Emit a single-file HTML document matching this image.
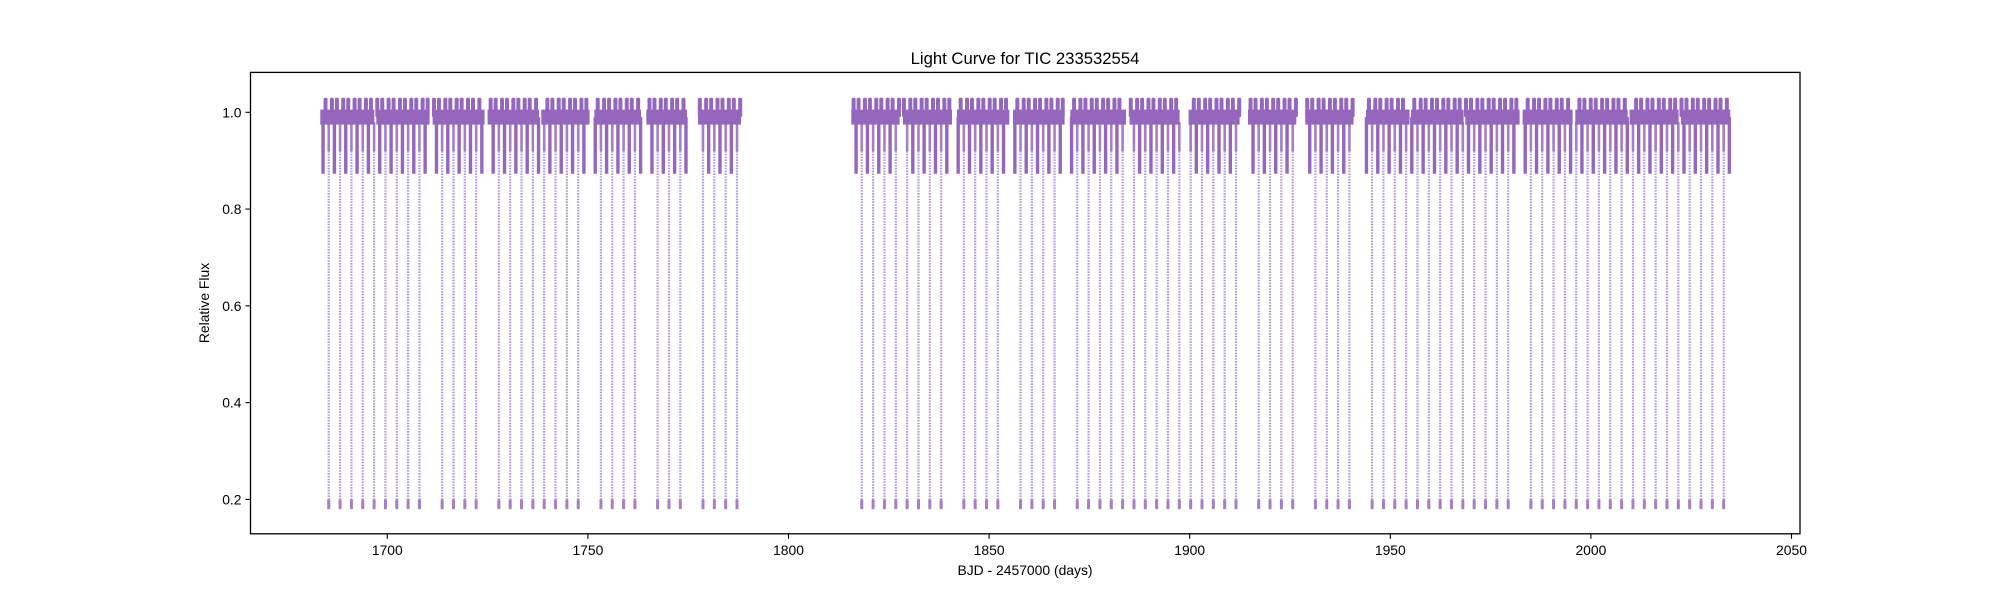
<!DOCTYPE html>
<html><head><meta charset="utf-8">
<style>
html,body{margin:0;padding:0;background:#fff;}
svg{display:block;font-family:"Liberation Sans","DejaVu Sans",sans-serif;}
</style></head>
<body>
<svg id="chart" width="2000" height="600" viewBox="0 0 2000 600" xmlns="http://www.w3.org/2000/svg">
<rect x="0" y="0" width="2000" height="600" fill="#fff"/>
<text x="1025" y="64" font-size="16.7" text-anchor="middle" fill="#000">Light Curve for TIC 233532554</text>
<g id="marks"></g>
<g id="axes"></g>
<text x="1025" y="575" font-size="13.9" text-anchor="middle" fill="#000">BJD - 2457000 (days)</text>
<text transform="translate(209,303) rotate(-90)" font-size="13.9" text-anchor="middle" fill="#000">Relative Flux</text>
</svg>
<script>
// ---- data ----
const segStarts = [1683.30,1697.26,1711.29,1725.00,1738.38,1751.60,1764.56,1777.44,1815.65,1828.54,1842.00,1855.96,1870.24,1885.02,1899.73,1914.53,1928.81,1943.94,1955.16,1968.69,1982.98,1996.11,2009.65,2022.45];
const segEnds   = [1696.76,1710.54,1724.25,1737.81,1750.42,1763.24,1774.70,1788.16,1827.69,1840.75,1855.03,1868.82,1884.12,1897.48,1912.44,1926.57,1940.85,1954.81,1968.27,1982.23,1995.44,2009.15,2021.86,2034.74];
const eclipseEpoch = [1685.40];
const eclipsePeriod = [2.8268];
const primaryMin = [0.18];
const secondaryMin = [0.873];
const baseFlux = [0.99];
const peakFlux = [1.03];
const xTicks = [1700,1750,1800,1850,1900,1950,2000,2050];
const yTicks = [0.2,0.4,0.6,0.8,1.0];

// ---- axes ----
const L=250.5, R=1800, T=72.4, B=533.8;
function xs(d){return 387.3 + (d-1700)*4.012;}
function ys(v){return 112.3 - (v-1.0)*483.9;}

const NS="http://www.w3.org/2000/svg";
const marks=document.getElementById('marks');
const axes=document.getElementById('axes');
function mk(tag,attrs,parent){const e=document.createElementNS(NS,tag);for(const k in attrs)e.setAttribute(k,attrs[k]);parent.appendChild(e);return e;}

const col="#9467bd";
const P=eclipsePeriod[0], T0=eclipseEpoch[0];
for(let s=0;s<segStarts.length;s++){
  const a=segStarts[s], b=segEnds[s];
  const g=mk('g',{},marks);
  
  
  const band=mk('line',{x1:xs(a),x2:xs(b),y1:ys(baseFlux[0]),y2:ys(baseFlux[0]),stroke:col,'stroke-width':15},g);
  
  
  const n0=Math.ceil((a-T0)/P)-1, n1=Math.floor((b-T0)/P)+1;
  for(let n=n0;n<=n1;n++){
    const tp=T0+n*P, ts=tp+P/2;
    [0.28,0.72].forEach(q=>{
      const tq=tp+q*P;
      if(tq>=a+0.1 && tq<=b-0.1){
        const pk=mk('rect',{x:xs(tq)-2,y:ys(peakFlux[0]),width:4,height:ys(baseFlux[0])-ys(peakFlux[0]),rx:1.5,fill:col},g);
        
        
      }
    });
    if(tp>=a+0.05 && tp<=b-0.05){
      const x=xs(tp);
      const top=mk('rect',{x:x-1.3,y:ys(0.98),width:2.6,height:ys(0.92)-ys(0.98),fill:col,opacity:0.85},g);
      
      
      const dl=mk('line',{x1:x,x2:x,y1:ys(0.92),y2:ys(primaryMin[0]+0.02),stroke:'#9f7fcc','stroke-width':2.2,'stroke-dasharray':'1.6 1.2',opacity:0.8},g);
      
      
      const bot=mk('rect',{x:x-1.5,y:ys(primaryMin[0]+0.02),width:3,height:ys(primaryMin[0])-ys(primaryMin[0]+0.02),fill:col,opacity:0.85},g);
      
      
    }
    if(ts>=a+0.05 && ts<=b-0.05){
      const x=xs(ts);
      const sr=mk('rect',{x:x-1.7,y:ys(0.99),width:3.4,height:ys(secondaryMin[0])-ys(0.99),fill:col},g);
      
      
    }
  }
}

const fr=mk('rect',{x:L,y:T,width:R-L,height:B-T,fill:'none',stroke:'#000','stroke-width':1.3},axes);


xTicks.forEach(v=>{
  const x=xs(v);
  const tk=mk('line',{x1:x,x2:x,y1:B,y2:B+5,stroke:'#000','stroke-width':1.1},axes);
  
  
  const tl=mk('text',{x:x,y:B+21,'font-size':13.9,'text-anchor':'middle',fill:'#000'},axes);
  tl.textContent=v;
  
  
});
yTicks.forEach(v=>{
  const y=ys(v);
  const tk=mk('line',{x1:L-5,x2:L,y1:y,y2:y,stroke:'#000','stroke-width':1.1},axes);
  
  
  const tl=mk('text',{x:L-9,y:y+5,'font-size':13.9,'text-anchor':'end',fill:'#000'},axes);
  tl.textContent=v.toFixed(1);
  
  
});
</script>
</body></html>
